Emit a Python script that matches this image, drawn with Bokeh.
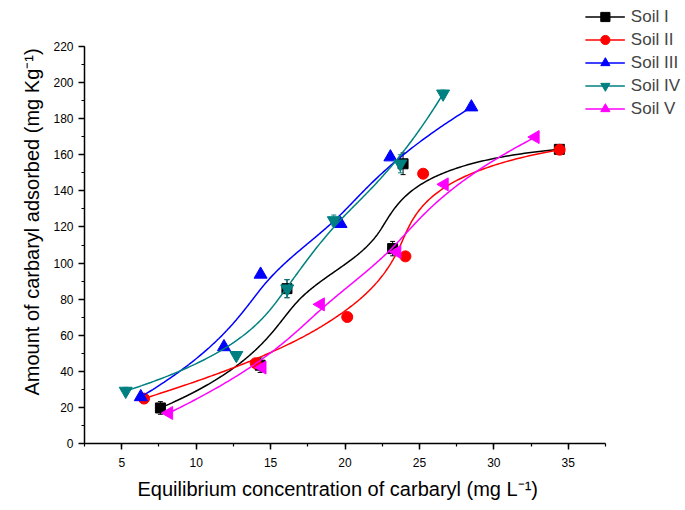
import numpy as np
from bokeh.plotting import figure
from bokeh.models import (Range1d, Legend, LegendItem, Whisker, ColumnDataSource,
                          SingleIntervalTicker, TeeHead, Title)
from bokeh.embed import file_html
from bokeh.resources import INLINE

# ---- data ----
soil1_x = [7.6, 14.3, 16.1, 23.2, 23.9, 34.4]
soil1_y = [19.7, 43.4, 85.8, 108.0, 155.0, 163.0]
soil1_err = [3.5, 4.0, 5.0, 4.0, 6.0, 2.0]

soil2_x = [6.5, 14.0, 20.15, 24.06, 25.25, 34.42]
soil2_y = [24.9, 44.5, 70.1, 103.7, 149.5, 162.8]

soil3_x = [6.28, 11.87, 14.33, 19.7, 23.05, 28.49]
soil3_y = [25.8, 53.5, 93.7, 121.8, 158.7, 186.4]

soil4_x = [5.27, 12.7, 16.12, 19.25, 23.72, 26.59]
soil4_y = [29.1, 48.9, 85.8, 123.6, 155.0, 193.8]
soil4_err = [2.0, 2.0, 5.0, 3.0, 5.0, 2.0]

soil5_x = [8.17, 14.44, 18.36, 23.5, 26.68, 32.79]
soil5_y = [16.9, 42.1, 77.1, 106.1, 143.6, 169.8]

series_names = ["Soil I", "Soil II", "Soil III", "Soil IV", "Soil V"]
x_axis_span = (2.5, 37.5)
y_axis_span = (0, 220)
x_label = "Equilibrium concentration of carbaryl  (mg L\u207b\u00b9)"
y_label = "Amount of carbaryl adsorbed (mg Kg\u207b\u00b9)"


def bspline(cx, cy, k=3, num=300):
    cx = np.asarray(cx, float)
    cy = np.asarray(cy, float)
    n = len(cx)
    segs = n - k
    knots = np.array([0.0] * k + list(range(segs + 1)) + [float(segs)] * k)
    t = np.linspace(0, segs - 1e-9, num)

    def N(i, d, t):
        if d == 0:
            return np.where((knots[i] <= t) & (t < knots[i + 1]), 1.0, 0.0)
        out = np.zeros_like(t)
        den1 = knots[i + d] - knots[i]
        den2 = knots[i + d + 1] - knots[i + 1]
        if den1 > 0:
            out += (t - knots[i]) / den1 * N(i, d - 1, t)
        if den2 > 0:
            out += (knots[i + d + 1] - t) / den2 * N(i + 1, d - 1, t)
        return out

    B = np.array([N(i, k, t) for i in range(n)])
    xs = B.T @ cx
    ys = B.T @ cy
    xs = np.append(xs, cx[-1])
    ys = np.append(ys, cy[-1])
    return xs, ys


# Layout: axes drawn from (84, 443) to (605, 46); the frame runs on to the
# canvas edges so that the legend can sit above/right of the axes.
W, H = 685, 510
left, bottom = 84, 67
ax_w, ax_h = 521.0, 397.0
fw, fh = W - left, H - bottom
xs_per_px = (x_axis_span[1] - x_axis_span[0]) / ax_w
ys_per_px = (y_axis_span[1] - y_axis_span[0]) / ax_h
x_rng = Range1d(x_axis_span[0], x_axis_span[0] + fw * xs_per_px)
y_rng = Range1d(y_axis_span[0], y_axis_span[0] + fh * ys_per_px)

p = figure(width=W, height=H, output_backend="svg", toolbar_location=None,
           x_range=x_rng, y_range=y_rng,
           min_border_left=left, min_border_right=0, min_border_top=0,
           min_border_bottom=bottom)
p.xgrid.visible = False
p.ygrid.visible = False
p.outline_line_color = None
p.background_fill_color = "white"
p.border_fill_color = "white"

FONT = "Liberation Sans"
for ax in (p.xaxis[0], p.yaxis[0]):
    ax.axis_line_width = 1.5
    ax.axis_line_color = "black"
    ax.major_tick_line_width = 1.5
    ax.minor_tick_line_width = 1.2
    ax.major_tick_out = 6
    ax.major_tick_in = 0
    ax.minor_tick_out = 3
    ax.minor_tick_in = 0
    ax.major_label_text_font = FONT
    ax.major_label_text_font_size = "12px"
    ax.major_label_text_color = "black"
    ax.axis_label_text_font = FONT
    ax.axis_label_text_font_size = "20px"
    ax.axis_label_text_font_style = "normal"
    ax.axis_label_text_color = "black"

p.xaxis.bounds = x_axis_span
p.yaxis.bounds = y_axis_span
p.xaxis.ticker = SingleIntervalTicker(interval=5, num_minor_ticks=2)
p.yaxis.ticker = SingleIntervalTicker(interval=20, num_minor_ticks=2)
p.yaxis.axis_label = y_label
p.xaxis.major_label_standoff = 8
p.yaxis.major_label_standoff = 5
p.yaxis.axis_label_standoff = 7

# x-axis title, centred under the drawn axis (not under the wider frame)
p.add_layout(Title(text=x_label, align="left", offset=53, standoff=12,
                   text_font=FONT, text_font_size="20px",
                   text_font_style="normal", text_color="black"), "below")

series = [
    (soil1_x, soil1_y, "black", "square", 0.0, 10),
    (soil2_x, soil2_y, "red", "circle", 0.0, 11),
    (soil3_x, soil3_y, "blue", "triangle", 0.0, 13),
    (soil4_x, soil4_y, "#008080", "inverted_triangle", 0.0, 13),
    (soil5_x, soil5_y, "magenta", "triangle", np.pi / 2, 13),
]

items = []
for (xs, ys, col, mk, ang, sz), name in zip(series, series_names):
    bx, by = bspline(xs, ys)
    ln = p.line(bx, by, line_color=col, line_width=1.5)
    src = ColumnDataSource(dict(x=xs, y=ys, a=[ang] * len(xs)))
    sc = p.scatter("x", "y", source=src, marker=mk, angle="a", size=sz,
                   fill_color=col, line_color=col)
    items.append(LegendItem(label=name, renderers=[ln, sc], index=0))

for xs, ys, errs, col in [(soil1_x, soil1_y, soil1_err, "black"),
                          (soil4_x, soil4_y, soil4_err, "#008080")]:
    src = ColumnDataSource(dict(x=xs,
                                lo=[y - e for y, e in zip(ys, errs)],
                                hi=[y + e for y, e in zip(ys, errs)]))
    w = Whisker(source=src, base="x", lower="lo", upper="hi",
                line_color=col, line_width=1,
                lower_head=TeeHead(size=5, line_color=col),
                upper_head=TeeHead(size=5, line_color=col))
    p.add_layout(w)

legend = Legend(items=items, location="top_right", border_line_color=None,
                background_fill_alpha=0, label_text_font=FONT,
                label_text_font_size="17px", glyph_width=40, glyph_height=23,
                spacing=0, padding=2, margin=5, label_standoff=6)
p.add_layout(legend)

open("out.html", "w").write(file_html(p, INLINE))
